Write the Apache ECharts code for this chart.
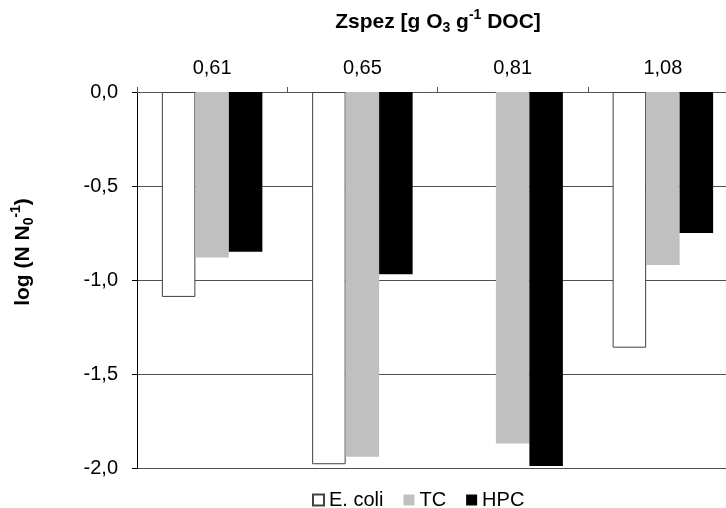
<!DOCTYPE html>
<html>
<head>
<meta charset="utf-8">
<script src="https://cdn.jsdelivr.net/npm/echarts@6/dist/echarts.min.js"></script>
<style>
html,body{margin:0;padding:0;background:#fff;}
#chart{width:726px;height:508px;}
</style>
</head>
<body>
<div id="chart"></div>
<script>
var categories = ['0,61', '0,65', '0,81', '1,08'];
var seriesNames = ['E. coli', 'TC', 'HPC'];
var ecoli = [-1.09, -1.98, null, -1.36];
var tc = [-0.88, -1.94, -1.87, -0.92];
var hpc = [-0.85, -0.97, -1.99, -0.75];
var yMin = -2.0, yMax = 0.0, yStep = 0.5;

var FONT = '"Liberation Sans", Arial, sans-serif';
var chart = echarts.init(document.getElementById('chart'), null, {renderer: 'canvas'});

var option = {
  backgroundColor: '#ffffff',
  animation: false,
  textStyle: {fontFamily: FONT},
  grid: {left: 137, right: -12, top: 92, bottom: 40, containLabel: false, outerBoundsMode: 'none'},
  legend: {
    left: 312, top: 490, padding: 0,
    itemWidth: 11, itemHeight: 11, itemGap: 20,
    icon: 'rect',
    textStyle: {fontFamily: FONT, fontSize: 20, color: '#000', padding: [0,0,0,0]},
    data: seriesNames
  },
  xAxis: {
    type: 'category',
    position: 'top',
    data: categories,
    axisLine: {show: true, lineStyle: {color: '#555', width: 1}},
    axisTick: {show: true, length: 5, lineStyle: {color: '#555'}},
    axisLabel: {fontFamily: FONT, fontSize: 20, color: '#000', margin: 14},
    splitLine: {show: false}
  },
  yAxis: {
    type: 'value',
    min: yMin, max: yMax, interval: yStep,
    axisLine: {show: true, lineStyle: {color: '#000', width: 1}},
    axisTick: {show: true, length: 5, lineStyle: {color: '#000'}},
    axisLabel: {
      fontFamily: FONT, fontSize: 20, color: '#000', margin: 19,
      formatter: function (v) { return v.toFixed(1).replace('.', ','); }
    },
    splitLine: {show: true, lineStyle: {color: '#505050', width: 1}}
  },
  series: [
    {name: seriesNames[0], type: 'bar', data: ecoli, barWidth: 33.5, barGap: '0%',
     itemStyle: {color: '#ffffff', borderColor: '#404040', borderWidth: 1}},
    {name: seriesNames[1], type: 'bar', data: tc, barWidth: 33.5, barGap: '0%',
     itemStyle: {color: '#c0c0c0'}},
    {name: seriesNames[2], type: 'bar', data: hpc, barWidth: 33.5, barGap: '0%',
     itemStyle: {color: '#000000'}}
  ],
  graphic: [
    {
      type: 'text', x: 438, y: 22,
      style: {
        text: '{b|Zspez [g O}{sub|3}{b| g}{sup|-1}{b| DOC]}',
        align: 'center', verticalAlign: 'middle',
        rich: {
          b: {fontFamily: FONT, fontSize: 21, fontWeight: 'bold', color: '#000', lineHeight: 27},
          sub: {fontFamily: FONT, fontSize: 14, fontWeight: 'bold', color: '#000', lineHeight: 14, verticalAlign: 'bottom'},
          sup: {fontFamily: FONT, fontSize: 14, fontWeight: 'bold', color: '#000', lineHeight: 14, verticalAlign: 'top'}
        }
      }
    },
    {
      type: 'text', x: 23, y: 252, rotation: Math.PI / 2,
      style: {
        text: '{b|log (N N}{sub|0}{sup|-1}{b|)}',
        align: 'center', verticalAlign: 'middle',
        rich: {
          b: {fontFamily: FONT, fontSize: 21, fontWeight: 'bold', color: '#000', lineHeight: 27},
          sub: {fontFamily: FONT, fontSize: 14, fontWeight: 'bold', color: '#000', lineHeight: 14, verticalAlign: 'bottom'},
          sup: {fontFamily: FONT, fontSize: 14, fontWeight: 'bold', color: '#000', lineHeight: 14, verticalAlign: 'top'}
        }
      }
    }
  ]
};
chart.setOption(option);
</script>
</body>
</html>
